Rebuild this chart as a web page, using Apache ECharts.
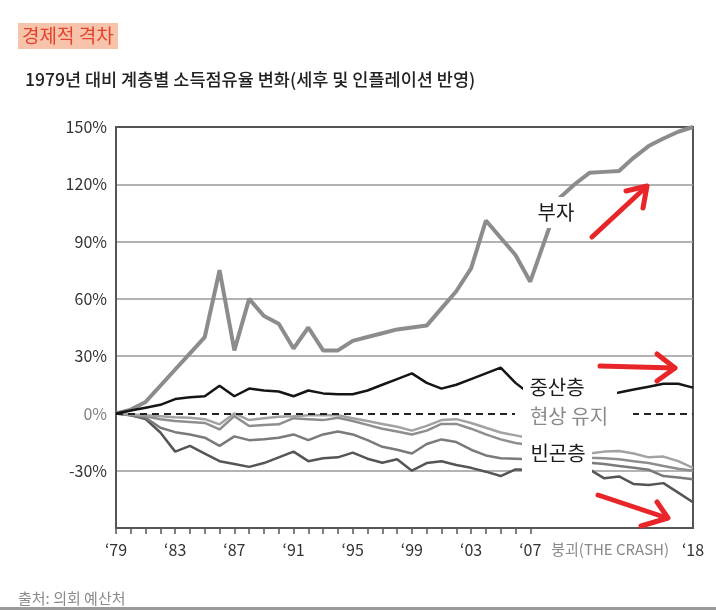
<!DOCTYPE html>
<html>
<head>
<meta charset="utf-8">
<script src="https://cdn.jsdelivr.net/npm/echarts@6/dist/echarts.min.js"></script>
<style>
html, body { margin: 0; padding: 0; background: #fff; }
#main { width: 716px; height: 610px; }
</style>
</head>
<body>
<div id="main"></div>
<script>
// 연도
var years = [1979, 1980, 1981, 1982, 1983, 1984, 1985, 1986, 1987, 1988,
             1989, 1990, 1991, 1992, 1993, 1994, 1995, 1996, 1997, 1998,
             1999, 2000, 2001, 2002, 2003, 2004, 2005, 2006, 2007, 2008,
             2009, 2010, 2011, 2012, 2013, 2014, 2015, 2016, 2017, 2018];

// 부자
var richData = [0, 2, 6, 14.5, 23, 31.5, 40, 75, 33, 60,
                51, 47, 34, 45, 33, 33, 38, 40, 42, 44,
                45, 46, 55, 64, 76, 101, 92, 83, 69, 91,
                113, 120, 126, 126.5, 127, 134, 140, 144, 147.5, 150];

// 중산층
var middleData = [0, 1.5, 3, 4.5, 7.5, 8.5, 9, 14.5, 9, 13,
                  12, 11.5, 9, 12, 10.5, 10, 10, 12, 15, 18,
                  21, 16, 13, 15, 18, 21, 24, 16, 10, 10,
                  10, 10, 10, 10, 11, 12.5, 14, 15.5, 15.5, 13.5];

// 빈곤층 (네 개 선)
var poor1 = [0, -0.5, -1, -1.5, -2, -2.3, -3, -5.7, 0, -3.5,
             -2.5, -1.7, -1.5, -1, -1, -1, -2.5, -4, -5.5, -7,
             -9, -6.5, -3.5, -3, -5, -7.5, -10, -11.5, -13, -15,
             -17, -19, -21, -20, -19.7, -21, -23, -22.6, -25, -28.5];
var poor2 = [0, -0.5, -1.5, -3, -4, -4.5, -5, -8.4, -1.4, -6.6,
             -6, -5.7, -2.5, -3, -3.5, -2.3, -4, -6, -8, -9.5,
             -11, -9, -5.5, -5.5, -8, -11, -13.6, -15.5, -16.5, -18,
             -20, -22, -23.2, -23.5, -24, -25, -26, -27.5, -29, -30];
var poor3 = [0, -1, -2.3, -7.5, -9.8, -11, -12.7, -17, -12, -14,
             -13.5, -12.7, -11, -14, -11, -9.5, -11, -14, -17.5, -19,
             -21, -16, -13.6, -15, -19, -22, -23.5, -23.7, -24, -24.5,
             -25, -25.5, -25.8, -26.5, -27.5, -28.5, -29.5, -32.8, -33.5, -34.5];
var poor4 = [0, -1, -3, -10, -20, -17, -21, -25, -26.5, -28,
             -26, -23, -20, -25, -23.5, -23, -20.5, -23.7, -25.8, -24,
             -30, -26, -25, -27, -28.5, -30.5, -32.8, -29.3, -29.5, -29.5,
             -29.5, -29.5, -29.3, -34, -33, -37, -37.5, -36.5, -41.5, -46.5];

// 축 눈금 라벨
var labelYears = [1979, 1983, 1987, 1991, 1995, 1999, 2003, 2007, 2012.4, 2018];
var labelTexts = ['\u201879', '\u201883', '\u201887', '\u201891', '\u201895', '\u201899', '\u201803', '\u201807', '{c|붕괴(THE CRASH)}', '\u201818'];
var tickYears = [];
for (var i = 1979; i <= 2007; i++) tickYears.push(i);

var FONT = '"Noto Sans CJK KR", "Noto Sans", sans-serif';

function pairs(data) {
	return years.map(function(y, i) { return [y, data[i]]; });
}
function lineSeries(name, data, color, width, z) {
	return {
		name: name,
		type: 'line',
		data: pairs(data),
		symbol: 'none',
		smooth: false,
		lineStyle: { color: color, width: width },
		z: z
	};
}

var mainChart = echarts.init(document.getElementById('main'));

var midSeries = lineSeries('중산층', middleData, '#151515', 2.5, 5);
midSeries.markLine = {
	silent: true,
	symbol: ['none', 'none'],
	label: { show: false },
	lineStyle: { type: [7, 5], color: '#222', width: 2 },
	data: [{ yAxis: 0 }]
};

var chartOpt = {
	animation: false,
	backgroundColor: '#fff',
	grid: {
		left: 116, right: 23, top: 127, bottom: 82,
		show: true, borderColor: '#555', borderWidth: 2
	},
	xAxis: {
		type: 'value',
		min: 1979, max: 2018,
		axisLine: { show: true, onZero: false, lineStyle: { color: '#555', width: 2 } },
		axisTick: { show: true, customValues: tickYears, length: 6, lineStyle: { color: '#555', width: 1.5 } },
		axisLabel: {
			customValues: labelYears,
			margin: 14,
			fontSize: 16,
			fontFamily: FONT,
			color: '#333',
			rich: {
				c: { fontSize: 15, fontFamily: FONT, color: '#8a8a8a' }
			},
			formatter: function(v) {
				var k = labelYears.indexOf(v);
				return k >= 0 ? labelTexts[k] : '';
			}
		},
		splitLine: { show: false }
	},
	yAxis: {
		type: 'value',
		min: -60, max: 150, interval: 30,
		axisLine: { show: true, lineStyle: { color: '#555', width: 2 } },
		axisTick: { show: false },
		axisLabel: {
			margin: 9,
			fontSize: 16,
			fontFamily: FONT,
			color: function(v) { return v == 0 ? '#808080' : '#333'; },
			formatter: function(v) {
				if (v == -60) return '';
				return v + '%';
			}
		},
		splitLine: {
			show: true,
			lineStyle: {
				color: ['#555', '#9a9a9a', 'rgba(0,0,0,0)', '#9a9a9a', '#9a9a9a', '#9a9a9a', '#9a9a9a', '#555'],
				width: 1.5
			}
		}
	},
	series: [
		lineSeries('빈곤층4', poor4, '#555', 2.5, 2),
		lineSeries('빈곤층3', poor3, '#7a7a7a', 2.5, 2),
		lineSeries('빈곤층2', poor2, '#8e8e8e', 2.5, 2),
		lineSeries('빈곤층1', poor1, '#a2a2a2', 2.5, 2),
		midSeries,
		lineSeries('부자', richData, '#8c8c8c', 4, 4)
	],
	graphic: [
		// 상단 제목
		{ type: 'rect', z: 100, shape: { x: 18, y: 23, width: 100, height: 26 }, style: { fill: '#f8c3ab' } },
		{ type: 'text', z: 101, style: { text: '경제적 격차', x: 22, y: 36, verticalAlign: 'middle', font: '19px ' + FONT, fill: '#e3432b' } },
		{ type: 'text', z: 101, style: { text: '1979년 대비 계층별 소득점유율 변화(세후 및 인플레이션 반영)', x: 25, y: 79, verticalAlign: 'middle', font: '500 17.5px ' + FONT, fill: '#222' } },
		// 선 위의 라벨 (흰 바탕으로 선을 가림)
		{ type: 'rect', z: 100, shape: { x: 536, y: 197, width: 41, height: 31 }, style: { fill: '#fff' } },
		{ type: 'text', z: 101, style: { text: '부자', x: 556, y: 212, align: 'center', verticalAlign: 'middle', font: '20px ' + FONT, fill: '#1a1a1a' } },
		{ type: 'rect', z: 100, shape: { x: 523, y: 375, width: 94, height: 24 }, style: { fill: '#fff' } },
		{ type: 'text', z: 101, style: { text: '중산층', x: 557, y: 387, align: 'center', verticalAlign: 'middle', font: '20px ' + FONT, fill: '#1a1a1a' } },
		{ type: 'rect', z: 100, shape: { x: 515, y: 404, width: 118, height: 24 }, style: { fill: '#fff' } },
		{ type: 'text', z: 101, style: { text: '현상 유지', x: 569, y: 416, align: 'center', verticalAlign: 'middle', font: '20px ' + FONT, fill: '#8a8a8a' } },
		{ type: 'rect', z: 100, shape: { x: 522, y: 433, width: 70, height: 44 }, style: { fill: '#fff' } },
		{ type: 'text', z: 101, style: { text: '빈곤층', x: 558, y: 453, align: 'center', verticalAlign: 'middle', font: '20px ' + FONT, fill: '#1a1a1a' } },
		// 빨간 화살표
		{ type: 'polyline', z: 102, shape: { points: [[592, 237], [646, 187]] }, style: { stroke: '#e8262a', lineWidth: 5, lineCap: 'round', fill: null } },
		{ type: 'polyline', z: 102, shape: { points: [[626, 191], [647, 186], [643, 208]] }, style: { stroke: '#e8262a', lineWidth: 5, lineCap: 'round', lineJoin: 'round', fill: null } },
		{ type: 'polyline', z: 102, shape: { points: [[600, 366], [675, 368]] }, style: { stroke: '#e8262a', lineWidth: 5, lineCap: 'round', fill: null } },
		{ type: 'polyline', z: 102, shape: { points: [[657, 354], [675, 368], [657, 381]] }, style: { stroke: '#e8262a', lineWidth: 5, lineCap: 'round', lineJoin: 'round', fill: null } },
		{ type: 'polyline', z: 102, shape: { points: [[598, 495], [667, 518]] }, style: { stroke: '#e8262a', lineWidth: 5, lineCap: 'round', fill: null } },
		{ type: 'polyline', z: 102, shape: { points: [[657, 502], [668, 518], [641, 526]] }, style: { stroke: '#e8262a', lineWidth: 5, lineCap: 'round', lineJoin: 'round', fill: null } },
		// 출처
		{ type: 'text', z: 101, style: { text: '출처: 의회 예산처', x: 18, y: 598, verticalAlign: 'middle', font: '15px ' + FONT, fill: '#8a8a8a' } },
		{ type: 'rect', z: 100, shape: { x: 0, y: 607, width: 716, height: 3 }, style: { fill: '#9a9a9a' } }
	]
};

mainChart.setOption(chartOpt);
</script>
</body>
</html>
